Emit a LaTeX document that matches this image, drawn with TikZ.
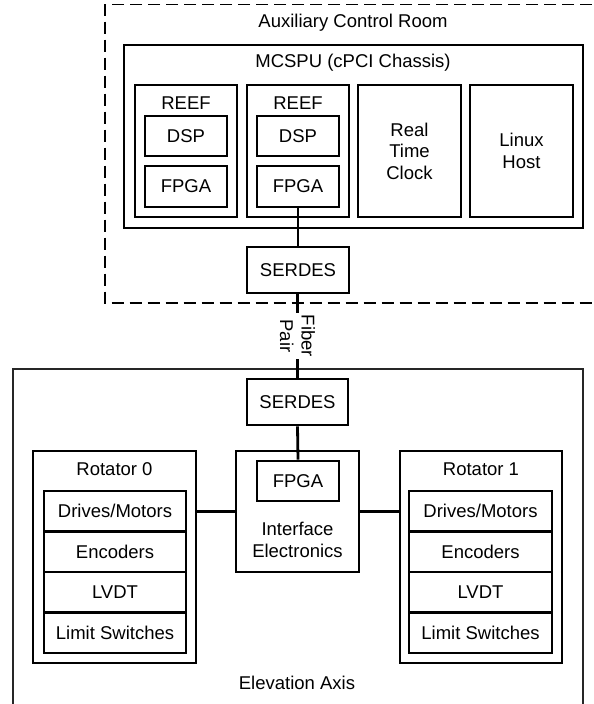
\documentclass[tikz,border=0pt]{standalone}
\usepackage{fontspec}
\setmainfont{Liberation Sans}
\begin{document}
\begin{tikzpicture}[x=1pt,y=-1pt,
  lbl/.style={font=\fontsize{18.5}{21.5}\selectfont, inner sep=0pt, align=center},
  box/.style={draw, line width=2.8pt, inner sep=0pt, font=\fontsize{18.5}{21.5}\selectfont, align=center},
  conn/.style={line width=2.8pt}]
\useasboundingbox (0,0) rectangle (594,704);
% dashed room
\draw[line width=1.6pt, dash pattern=on 12pt off 6pt] (610,4.5) -- (105,4.5) -- (105,303) -- (610,303);
\node[lbl] (aux) at (353,23) {Auxiliary Control Room};
% MCSPU
\node[box, minimum width=459pt, minimum height=183pt] (mcspu) at (353.5,136.5) {};
\node[lbl] (mcspulbl) at (353,63) {MCSPU (cPCI Chassis)};
% REEF 1
\node[box, minimum width=102pt, minimum height=132pt] (reef1) at (186,151) {};
\node[lbl] (reef1lbl) at (186,103) {REEF};
\node[box, minimum width=82pt, minimum height=40pt] (dsp1) at (186,136) {DSP};
\node[box, minimum width=82pt, minimum height=41pt] (fpga1) at (186,186.5) {FPGA};
% REEF 2
\node[box, minimum width=102pt, minimum height=132pt] (reef2) at (298,151) {};
\node[lbl] (reef2lbl) at (298,103) {REEF};
\node[box, minimum width=82pt, minimum height=40pt] (dsp2) at (298,136) {DSP};
\node[box, minimum width=82pt, minimum height=41pt] (fpga2) at (298,186.5) {FPGA};
% RTC and Linux
\node[box, minimum width=103pt, minimum height=132pt] (rtc) at (409.5,151) {Real\\Time\\Clock};
\node[box, minimum width=103pt, minimum height=132pt] (linux) at (521.5,151) {Linux\\Host};
% SERDES top
\node[box, minimum width=102pt, minimum height=46pt] (serA) at (298,270) {SERDES};
% Elevation axis
\draw[line width=1.2pt, draw=black!85] (13,704) -- (13,369) -- (583,369) -- (583,704);
\node[lbl] (elev) at (297,683) {Elevation Axis};
\node[box, minimum width=101pt, minimum height=46pt] (serB) at (297.5,402) {SERDES};
% Interface electronics
\node[box, minimum width=123pt, minimum height=121pt] (ie) at (297.5,511.5) {};
\node[box, minimum width=82pt, minimum height=40pt] (fpga3) at (298,481) {FPGA};
\node[lbl] (ielbl) at (297.5,540) {Interface\\Electronics};
% Rotator 0
\node[box, minimum width=163pt, minimum height=212pt] (rot0) at (114.5,557) {};
\node[lbl] (rot0lbl) at (114.5,469) {Rotator 0};
\node[box, minimum width=142pt, minimum height=40.5pt] (r0a) at (115,511.25) {Drives/Motors};
\node[box, minimum width=142pt, minimum height=40.5pt] (r0b) at (115,551.75) {Encoders};
\node[box, minimum width=142pt, minimum height=40.5pt] (r0c) at (115,592.25) {LVDT};
\node[box, minimum width=142pt, minimum height=40.5pt] (r0d) at (115,632.75) {Limit Switches};
% Rotator 1
\node[box, minimum width=162pt, minimum height=212pt] (rot1) at (481,557) {};
\node[lbl] (rot1lbl) at (481,469) {Rotator 1};
\node[box, minimum width=143pt, minimum height=40.5pt] (r1a) at (480.5,511.25) {Drives/Motors};
\node[box, minimum width=143pt, minimum height=40.5pt] (r1b) at (480.5,551.75) {Encoders};
\node[box, minimum width=143pt, minimum height=40.5pt] (r1c) at (480.5,592.25) {LVDT};
\node[box, minimum width=143pt, minimum height=40.5pt] (r1d) at (480.5,632.75) {Limit Switches};
% connectors
\draw[conn] (fpga2.south) -- (serA.north);
\draw[conn] (serA.south) -- (serB.north |- serA.south) -- (serB.north);
\node[lbl, fill=white, rotate=-90, inner sep=1.5pt] (fiber) at (297.5,336) {Fiber\\Pair};
\draw[conn] (serB.south) -- (fpga3.north);
\draw[conn] (ie.west) -- (ie.west -| rot0.east);
\draw[conn] (ie.east) -- (ie.east -| rot1.west);
\end{tikzpicture}
\end{document}
